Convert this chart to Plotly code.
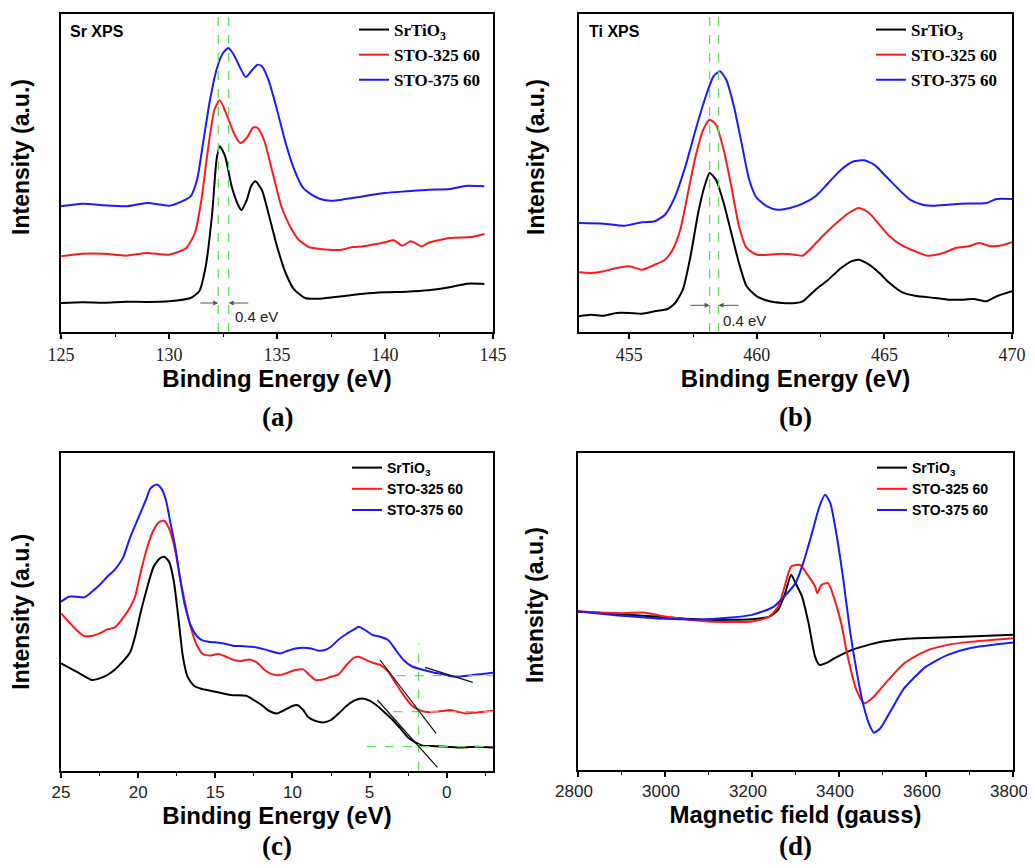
import plotly.graph_objects as go

# ---------------- data ----------------
series_names = ["SrTiO<sub>3</sub>", "STO-325 60", "STO-375 60"]
series_colors = ["#000000", "#ff1a1a", "#1a1aff"]

# (a) Sr XPS
sr_x_srtio3 = [125, 126, 127, 128, 129, 130, 131, 131.4, 131.7, 132.0, 132.2, 132.35, 132.6, 132.9, 133.2, 133.35, 133.6, 133.8, 134.0, 134.3, 134.6, 135.0, 135.4, 135.8, 136.3, 137, 138, 139, 140, 141, 142, 143, 143.8, 144.6]
sr_y_srtio3 = [29, 29.7, 29.3, 30.3, 30, 30.7, 34, 40.7, 65.7, 119, 172, 185.7, 175.7, 145.7, 127, 122, 132, 145.7, 150.7, 142, 119, 85.7, 59, 42.3, 34, 33.3, 35.7, 38.3, 39.7, 40.3, 41.7, 44.7, 48.3, 48]
sr_x_325 = [125, 126, 127, 128, 129, 130, 130.8, 131.2, 131.5, 131.8, 132.1, 132.35, 132.7, 133.0, 133.3, 133.6, 133.9, 134.1, 134.4, 134.8, 135.2, 135.6, 136.0, 136.5, 137, 138, 138.5, 139, 140, 140.4, 140.8, 141.2, 141.7, 142, 143, 144, 144.6]
sr_y_325 = [75.7, 78.3, 78.3, 76.3, 79, 77.3, 84, 99, 132, 182, 222, 231.7, 215.7, 199, 189, 194, 204.7, 204, 192, 159, 125.7, 105.7, 92.3, 84.7, 83, 82.3, 85, 85.7, 89.7, 91.7, 86.3, 90.7, 85.7, 89, 94, 95, 98]
sr_x_375 = [125, 126, 127, 128, 129, 130, 130.6, 131, 131.3, 131.6, 131.9, 132.2, 132.5, 132.75, 133.0, 133.3, 133.55, 133.8, 134.1, 134.3, 134.6, 135.0, 135.4, 135.8, 136.2, 136.6, 137.0, 137.5, 138, 139, 140, 141, 142, 143, 143.8, 144.6]
sr_y_375 = [125.7, 128.3, 126.7, 125.7, 129, 126.3, 130.7, 135.7, 152.3, 192.3, 232.3, 262.3, 279, 284, 277.3, 264, 255, 260.7, 267.3, 265.7, 252.3, 222.3, 189, 162.3, 144.3, 137.3, 133, 131.3, 132.3, 135.7, 139, 140.7, 142.3, 143, 146.3, 145.7]
sr_peak_lines = [132.28, 132.76]
sr_arrow_tails = [131.38, 133.74]
sr_arrow_y = 29
sr_shift_label = (134.05, 16)

# (b) Ti XPS
ti_x_srtio3 = [453.0, 453.5, 454, 454.5, 455, 455.5, 456, 456.5, 456.8, 457.1, 457.4, 457.7, 457.95, 458.15, 458.4, 458.7, 459.0, 459.3, 459.6, 460, 460.5, 461, 461.5, 461.8, 462.3, 462.8, 463.3, 463.7, 464.0, 464.4, 464.8, 465.2, 465.7, 466.2, 467, 467.5, 468, 468.5, 469, 469.4, 470]
ti_y_srtio3 = [15.7, 17.3, 16.3, 19, 19, 18.3, 20.7, 23, 29, 42.3, 75.7, 119, 145.7, 159, 152.3, 129, 99, 69, 45.7, 35.7, 30.7, 29, 29, 30.7, 42.3, 52.3, 64, 70.7, 72.3, 67.3, 59, 49, 39.7, 36.3, 34, 32.3, 32.3, 33, 30.7, 35.7, 40.7]
ti_x_325 = [453, 453.5, 454, 454.5, 455, 455.5, 456, 456.4, 456.7, 457.0, 457.3, 457.6, 457.9, 458.15, 458.4, 458.7, 459.0, 459.3, 459.6, 460, 460.5, 461, 461.5, 461.8, 462.2, 462.7, 463.2, 463.6, 464.0, 464.4, 464.8, 465.2, 465.7, 466.2, 466.7, 467.3, 467.8, 468.3, 468.7, 469.2, 469.7, 470]
ti_y_325 = [59.7, 59, 60.7, 64, 65.7, 62.3, 67.3, 72.3, 82.3, 102.3, 139, 175.7, 202.3, 212.3, 207.3, 182.3, 145.7, 105.7, 84, 77.3, 77.3, 78.3, 77.3, 76.3, 85.7, 99, 110.7, 119, 124, 119, 107.3, 95.7, 86.3, 80.7, 76.3, 79, 84, 85.7, 89, 85.7, 87.3, 89.7]
ti_x_375 = [453, 454, 454.8, 455.5, 456, 456.4, 456.8, 457.2, 457.6, 458.0, 458.3, 458.55, 458.8, 459.1, 459.4, 459.7, 460.0, 460.4, 460.8, 461.3, 461.8, 462.3, 462.8, 463.3, 463.8, 464.2, 464.6, 465.0, 465.5, 466.0, 466.5, 467, 468, 469, 469.4, 470]
ti_y_375 = [109, 108.3, 106.3, 109.7, 110.7, 117.3, 135.7, 165.7, 202.3, 235.7, 255.7, 260.7, 252.3, 225.7, 189, 152.3, 134, 125.7, 122.3, 124, 128.3, 135.7, 149, 162.3, 170.7, 171.7, 167.3, 157.3, 144.3, 132.3, 127.3, 126.3, 128.3, 129, 133, 133]
ti_peak_lines = [458.15, 458.5]
ti_arrow_tails = [457.34, 459.34]
ti_arrow_y = 26.7
ti_shift_label = (459.52, 11.3)

# (c) valence band
vb_x_srtio3 = [25, 24, 23, 22.5, 22, 21.5, 21, 20.5, 20.2, 19.8, 19.4, 19.0, 18.6, 18.3, 18.0, 17.7, 17.4, 17.1, 16.8, 16.4, 16, 15, 14, 13, 12.5, 12, 11.5, 11, 10.5, 10, 9.7, 9.3, 9, 8.5, 8, 7.5, 7, 6.5, 6, 5.5, 5, 4.5, 4, 3.5, 3, 2.5, 2, 1.5, 1, 0, -1, -2, -3]
vb_y_srtio3 = [107.3, 99, 90.7, 92.3, 95.7, 101.3, 109, 119, 134, 160.7, 184, 204, 212.3, 214, 209, 190.7, 154, 114, 94, 85.3, 82.3, 79, 75.7, 75, 70.7, 65.7, 59.7, 57.3, 60.7, 64.7, 65.7, 60.7, 54, 49.7, 48.3, 50.7, 57.3, 64.7, 70, 72.3, 70, 64.7, 58, 50.7, 42.3, 33.3, 28, 24.7, 24.7, 24, 23.3, 24, 23.3]
vb_x_325 = [25, 24.5, 24, 23.5, 23, 22.5, 22, 21.5, 21, 20.5, 20.2, 19.8, 19.4, 19.0, 18.6, 18.3, 18.0, 17.6, 17.3, 17.0, 16.6, 16.2, 15.8, 15.3, 14.8, 14.3, 13.8, 13.3, 12.8, 12.3, 11.8, 11.3, 10.8, 10.3, 9.8, 9.3, 8.9, 8.5, 8.0, 7.5, 7.0, 6.5, 6.0, 5.7, 5.3, 4.8, 4.3, 3.8, 3.3, 2.8, 2.3, 1.8, 1.3, 0.8, 0.3, -0.2, -0.7, -1.2, -1.8, -2.4, -3]
vb_y_325 = [157.3, 149, 140.7, 134.7, 134.7, 137.3, 141.3, 143.3, 152.3, 164, 174, 200.7, 224, 240.7, 249, 249.7, 242.3, 220.7, 194, 170.7, 144, 125.7, 116.7, 115.3, 116.7, 114, 110.7, 109.7, 111.3, 108, 100.7, 96.3, 95.7, 98, 100.7, 101.3, 95.7, 90.7, 91.3, 94, 96.3, 105.7, 113, 114, 111.3, 108, 105.7, 99, 87.3, 75.7, 65.7, 60.7, 58.7, 59, 59.7, 60.7, 59, 57.3, 58, 59, 60]
vb_x_375 = [25, 24.5, 24, 23.5, 23, 22.5, 22, 21.5, 21, 20.5, 20, 19.5, 19.2, 18.8, 18.5, 18.2, 17.9, 17.6, 17.3, 17.0, 16.6, 16.2, 15.8, 15.3, 14.8, 14.3, 13.8, 13.3, 12.8, 12.3, 11.8, 11.3, 10.8, 10.3, 9.8, 9.3, 8.8, 8.3, 7.9, 7.5, 7, 6.5, 6.0, 5.7, 5.3, 4.8, 4.3, 3.8, 3.3, 2.8, 2.3, 1.8, 1.3, 0.8, 0.3, -0.2, -0.7, -1.2, -1.7, -2.3, -3]
vb_y_375 = [169, 174, 174, 173.3, 179, 185.7, 194, 201.3, 212.3, 234, 252.3, 270.7, 282.3, 286.3, 282.3, 270.7, 247.3, 224, 194, 167.3, 145.7, 134.7, 130, 128.7, 128, 126.7, 124.7, 124.7, 124, 123.3, 121.3, 119, 117.3, 120, 122.3, 123, 122.3, 120, 120.7, 124, 131.3, 136.7, 141.3, 144, 140.7, 135.7, 134, 130.7, 120.7, 110.7, 104.7, 102, 100, 98, 96.7, 94.7, 94, 94.7, 95.7, 96.7, 98]
# tangent fits (start, end) and edge guides
vb_tangent_x = [[1.4, -1.69], [4.32, 0.69], [4.49, 0.6]]
vb_tangent_y = [[103.3, 88.3], [110.7, 37.3], [70.7, 3.3]]
vb_edge_x = 1.82
vb_edge_top = 127.3
vb_level_y = [95, 59, 24]
vb_level_start = [3.24, 3.46, 5.18]

# (d) EPR
epr_x_srtio3 = [2800, 2900, 3000, 3100, 3200, 3240, 3260, 3275, 3290, 3300, 3315, 3330, 3345, 3355, 3370, 3390, 3420, 3460, 3500, 3550, 3600, 3700, 3800]
epr_y_srtio3 = [158.3, 155.7, 152.7, 150, 150.7, 153.3, 160, 175, 195, 186.7, 173.3, 146.7, 113.3, 105, 106.7, 111.7, 118.3, 124, 128.3, 131, 132, 133.3, 135]
epr_x_325 = [2800, 2900, 2950, 3000, 3100, 3200, 3240, 3260, 3275, 3290, 3310, 3325, 3345, 3350, 3360, 3375, 3390, 3405, 3420, 3440, 3458, 3480, 3510, 3550, 3600, 3650, 3700, 3800]
epr_y_325 = [158.3, 156.7, 157.3, 153.3, 148.3, 148.3, 153.3, 163.3, 183.3, 203.3, 205, 196.7, 183.3, 176.7, 185, 186.7, 170, 146.7, 113.3, 80, 66.7, 73.3, 88.3, 106.7, 119, 125, 128, 131.7]
epr_x_375 = [2800, 2900, 3000, 3100, 3200, 3250, 3300, 3320, 3340, 3355, 3368, 3380, 3395, 3410, 3425, 3440, 3455, 3470, 3480, 3495, 3520, 3550, 3600, 3650, 3700, 3800]
epr_y_375 = [158.3, 154, 151, 150.7, 155, 163.3, 186.7, 210, 240, 263.3, 275, 266.7, 233.3, 190, 140, 100, 66.7, 45, 37.3, 41.7, 60, 81.7, 103.3, 115, 121.7, 127.3]

panel_labels = ["(a)", "(b)", "(c)", "(d)"]

# ---------------- figure ----------------
# the page body has an 8 px margin on every side; size the figure so the page never scrolls
OFF = 8
W, H = 1035 - 2 * OFF, 868 - 2 * OFF
SERIF = "Liberation Serif"
SANS = "Liberation Sans"
GREEN = "#5fe05f"

fig = go.Figure()

panels = [
    dict(ax="", leg="legend", data=[(sr_x_srtio3, sr_y_srtio3), (sr_x_325, sr_y_325), (sr_x_375, sr_y_375)]),
    dict(ax="2", leg="legend2", data=[(ti_x_srtio3, ti_y_srtio3), (ti_x_325, ti_y_325), (ti_x_375, ti_y_375)]),
    dict(ax="3", leg="legend3", data=[(vb_x_srtio3, vb_y_srtio3), (vb_x_325, vb_y_325), (vb_x_375, vb_y_375)]),
    dict(ax="4", leg="legend4", data=[(epr_x_srtio3, epr_y_srtio3), (epr_x_325, epr_y_325), (epr_x_375, epr_y_375)]),
]

for p in panels:
    for (xs, ys), name, col in zip(p["data"], series_names, series_colors):
        fig.add_trace(go.Scatter(
            x=xs, y=ys, mode="lines", name=name,
            line=dict(color=col, width=2, shape="spline", smoothing=0.6),
            xaxis="x" + p["ax"], yaxis="y" + p["ax"], legend=p["leg"],
        ))

# green guide lines (a), (b)
for xs_lines, ax, ytop in [(sr_peak_lines, "", 318), (ti_peak_lines, "2", 318)]:
    for xv in xs_lines:
        fig.add_trace(go.Scatter(x=[xv, xv], y=[0, ytop], mode="lines", showlegend=False,
                                 line=dict(color=GREEN, width=1.3, dash="dash"),
                                 xaxis="x" + ax, yaxis="y" + ax, hoverinfo="skip"))

# (c) guides and tangents
fig.add_trace(go.Scatter(x=[vb_edge_x, vb_edge_x], y=[0, vb_edge_top], mode="lines", showlegend=False,
                         line=dict(color=GREEN, width=1.3, dash="dash"), xaxis="x3", yaxis="y3", hoverinfo="skip"))
for ly, lx in zip(vb_level_y, vb_level_start):
    fig.add_trace(go.Scatter(x=[lx, -3], y=[ly, ly], mode="lines", showlegend=False,
                             line=dict(color=GREEN, width=1.3, dash="dash"), xaxis="x3", yaxis="y3", hoverinfo="skip"))
for tx, ty in zip(vb_tangent_x, vb_tangent_y):
    fig.add_trace(go.Scatter(x=tx, y=ty, mode="lines", showlegend=False,
                             line=dict(color="#111111", width=1.2), xaxis="x3", yaxis="y3", hoverinfo="skip"))

def fx(px):
    return (px - OFF) / W

def fy(py):
    return 1 - (py - OFF) / H

domains = {
    "": ([fx(61), fx(493)], [fy(332), fy(14)]),
    "2": ([fx(579), fx(1012)], [fy(332), fy(14)]),
    "3": ([fx(61), fx(493)], [fy(770.7), fy(452.7)]),
    "4": ([fx(578), fx(1013)], [fy(770), fy(452.7)]),
}
xranges = {"": [125, 145], "2": [453.03, 470], "3": [25, -3], "4": [2800, 3800]}
xdt = {"": (5, 2.5, 125), "2": (5, 2.5, 455), "3": (5, 2.5, 25), "4": (200, 100, 2800)}
xtitles = {"": "Binding Energy (eV)", "2": "Binding Energy (eV)", "3": "Binding Energy (eV)", "4": "Magnetic field (gauss)"}
tickfonts = {"": SERIF, "2": SERIF, "3": SANS, "4": SANS}
tickshift = {"": 0, "2": 0, "3": 0, "4": -4}
yranges = {"": [0, 318], "2": [0, 318], "3": [0, 318], "4": [0, 317]}
# leading non-breaking spaces nudge the rotated title upward along the axis, as in the original
ytitle_pad = {"": 5, "2": 5, "3": 0, "4": 2}

layout_axes = {}
for k in ["", "2", "3", "4"]:
    dx, dy = domains[k]
    major, minor, t0 = xdt[k]
    layout_axes["xaxis" + k] = dict(
        domain=dx, anchor="y" + k, range=xranges[k], automargin=False,
        showline=True, linecolor="black", linewidth=2, mirror=True,
        ticks="outside", ticklen=5, tickwidth=1.5, tickcolor="black",
        tick0=t0, dtick=major, ticklabelshift=tickshift[k], ticklabeloverflow="allow",
        minor=dict(ticks="outside", ticklen=3, tickwidth=1.2, dtick=minor, tick0=t0, tickcolor="black"),
        tickfont=dict(family=tickfonts[k], size=18 if tickfonts[k] == SERIF else 17, color="#222"),
        showgrid=False, zeroline=False,
        title=dict(text=xtitles[k], font=dict(family=SANS, size=24, color="black", weight="bold"), standoff=4),
    )
    layout_axes["yaxis" + k] = dict(
        domain=dy, anchor="x" + k, range=yranges[k], automargin=False,
        showline=True, linecolor="black", linewidth=2, mirror=True,
        ticks="", showticklabels=False, showgrid=False, zeroline=False,
        title=dict(text="&nbsp;" * ytitle_pad[k] + "Intensity (a.u.)",
                   font=dict(family=SANS, size=23, color="black", weight="bold"), standoff=26),
    )

legend_common = dict(bgcolor="rgba(0,0,0,0)", xanchor="left", yanchor="top", tracegroupgap=0)
legends = dict(
    legend=dict(x=fx(354), y=fy(12), font=dict(family=SERIF, size=17, color="black", weight="bold"), **legend_common),
    legend2=dict(x=fx(871), y=fy(12), font=dict(family=SERIF, size=17, color="black", weight="bold"), **legend_common),
    legend3=dict(x=fx(347), y=fy(452), font=dict(family=SANS, size=14, color="black", weight="bold"), **legend_common),
    legend4=dict(x=fx(872), y=fy(452), font=dict(family=SANS, size=14, color="black", weight="bold"), **legend_common),
)

annotations = []
# panel letters
for lab, (cx, cy) in zip(panel_labels, [(277, 417), (795, 417), (277, 846), (795, 846)]):
    annotations.append(dict(text=lab, x=fx(cx), y=fy(cy), xref="paper", yref="paper", showarrow=False,
                            xanchor="center", yanchor="middle",
                            font=dict(family=SERIF, size=27, color="black", weight="bold")))
# panel tags
for txt, px in [("Sr XPS", 68), ("Ti XPS", 587)]:
    annotations.append(dict(text=txt, x=fx(px), y=fy(31), xref="paper", yref="paper", showarrow=False,
                            xanchor="left", yanchor="middle",
                            font=dict(family=SANS, size=16, color="black", weight="bold")))
# shift arrows and labels
for ax, heads, tails, ay, lab in [("", sr_peak_lines, sr_arrow_tails, sr_arrow_y, sr_shift_label),
                                  ("2", ti_peak_lines, ti_arrow_tails, ti_arrow_y, ti_shift_label)]:
    for hx, tx in zip(heads, tails):
        annotations.append(dict(x=hx, y=ay, ax=tx, ay=ay, xref="x" + ax, yref="y" + ax,
                                axref="x" + ax, ayref="y" + ax, text="", showarrow=True,
                                arrowhead=2, arrowsize=1, arrowwidth=1, arrowcolor="#555555"))
    annotations.append(dict(x=lab[0], y=lab[1], xref="x" + ax, yref="y" + ax, text="0.4 eV",
                            showarrow=False, xanchor="center", yanchor="middle",
                            font=dict(family=SANS, size=15, color="#222")))

fig.update_layout(
    width=W, height=H, margin=dict(l=0, r=0, t=0, b=0),
    paper_bgcolor="white", plot_bgcolor="white",
    annotations=annotations, **layout_axes, **legends,
)

fig.write_html("out.html")
